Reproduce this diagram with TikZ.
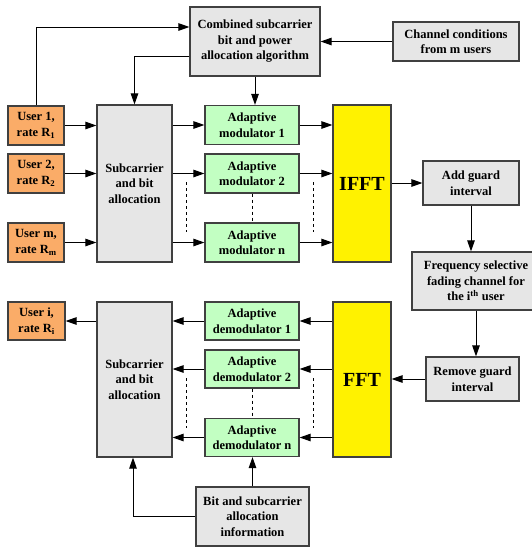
\documentclass[tikz,border=0pt]{standalone}
\usepackage{fontspec}
\setmainfont{Liberation Serif}
\usetikzlibrary{arrows.meta}

\definecolor{userorange}{RGB}{250,172,104}
\definecolor{modgreen}{RGB}{194,255,194}
\definecolor{boxgray}{RGB}{230,230,230}

\tikzset{
  blk/.style={draw=black!75, line width=1.2pt, align=center, inner sep=0pt,
    font=\fontsize{12.5}{15.5}\selectfont\bfseries},
  graybox/.style={blk, fill=boxgray},
  userbox/.style={blk, fill=userorange, minimum width=56pt, minimum height=39pt},
  modbox/.style={blk, fill=modgreen, minimum width=94pt, minimum height=39pt},
  fftbox/.style={blk, fill=yellow, minimum width=58pt,
    font=\fontsize{20}{24}\selectfont\bfseries},
  arr/.style={-{Triangle[length=11pt,width=7.5pt]}, line width=1pt},
  dots/.style={dashed, line width=0.7pt}
}

\begin{document}
\begin{tikzpicture}[x=1pt, y=-1pt]
\useasboundingbox (0,0) rectangle (532,547);

% transmitter side
\node[graybox, minimum width=130pt, minimum height=69pt] (comb) at (255,41.5)
  {Combined subcarrier\\bit and power\\allocation algorithm};
\node[graybox, minimum width=126pt, minimum height=39pt] (chan) at (456,41.5)
  {Channel conditions\\from m users};
\foreach \n/\y in {1/125.5, 2/173.5, m/242.5} {
  \node[userbox] (u\n) at (36,\y) {User \n,\\rate R\textsubscript{\n}};
}
\node[graybox, minimum width=75pt, minimum height=157pt] (sub1) at (134.5,183.5)
  {Subcarrier\\and bit\\allocation};
\foreach \n/\y in {1/125, 2/173.5, n/242.5} {
  \node[modbox] (mod\n) at (252,\y) {Adaptive\\modulator \n};
}
\node[fftbox, minimum height=157pt] (ifft) at (362,183.5) {IFFT};
\node[graybox, minimum width=96pt, minimum height=44pt] (addg) at (471,183)
  {Add guard\\interval};

% channel
\node[graybox, minimum width=128pt, minimum height=58pt] (freq) at (476,281)
  {Frequency selective\\fading channel for\\the i\textsuperscript{th} user};

% receiver side
\node[graybox, minimum width=93pt, minimum height=44pt] (remg) at (472.5,379)
  {Remove guard\\interval};
\node[fftbox, minimum height=155pt] (fft) at (362,379.5) {FFT};
\foreach \n/\y in {1/321, 2/369, n/437.5} {
  \node[modbox, minimum height=38pt] (dem\n) at (252,\y) {Adaptive\\demodulator \n};
}
\node[graybox, minimum width=75pt, minimum height=155pt] (sub2) at (134.5,379.5)
  {Subcarrier\\and bit\\allocation};
\node[userbox, minimum width=57pt, minimum height=38pt] (ui) at (36.5,321)
  {User i,\\rate R\textsubscript{i}};
\node[graybox, minimum width=113pt, minimum height=59pt] (info) at (252.5,516.5)
  {Bit and subcarrier\\allocation\\information};

% arrows, transmitter
\draw[arr] (u1.north) |- ([yshift=14.5pt]comb.west);
\draw[arr] ([yshift=-14.5pt]comb.west) -| (sub1.north);
\draw[arr] (comb.south) -- (comb.south |- mod1.north);
\draw[arr] (chan.west) -- (comb.east);
\foreach \n in {1,2,m}
  \draw[arr] (u\n.east) -- (u\n -| sub1.west);
\foreach \n in {1,2,n} {
  \draw[arr] (sub1.east |- mod\n) -- (mod\n.west);
  \draw[arr] (mod\n.east) -- (mod\n -| ifft.west);
}
\draw[arr] (ifft.east |- addg) -- (addg.west);
\draw[arr] (addg.south) -- (addg.south |- freq.north);
\draw[arr] (freq.south) -- (freq.south |- remg.north);

% arrows, receiver
\draw[arr] (remg.west) -- (remg -| fft.east);
\foreach \n in {1,2,n} {
  \draw[arr] (fft.west |- dem\n) -- (dem\n.east);
  \draw[arr] (dem\n.west) -- (dem\n -| sub2.east);
}
\draw[arr] (sub2.west |- ui) -- (ui.east);
\draw[arr] (info.north) -- (info.north |- demn.south);
\draw[arr] (info.west) -| ([xshift=-1.5pt]sub2.south);

% dots between the rows
\foreach \x in {186,313} {
  \draw[dots] (\x,182) -- (\x,232);
  \draw[dots] (\x,378) -- (\x,428);
}
\draw[dots] (mod2.south) -- (modn.north);
\draw[dots] (dem2.south) -- (demn.north);
\end{tikzpicture}
\end{document}
